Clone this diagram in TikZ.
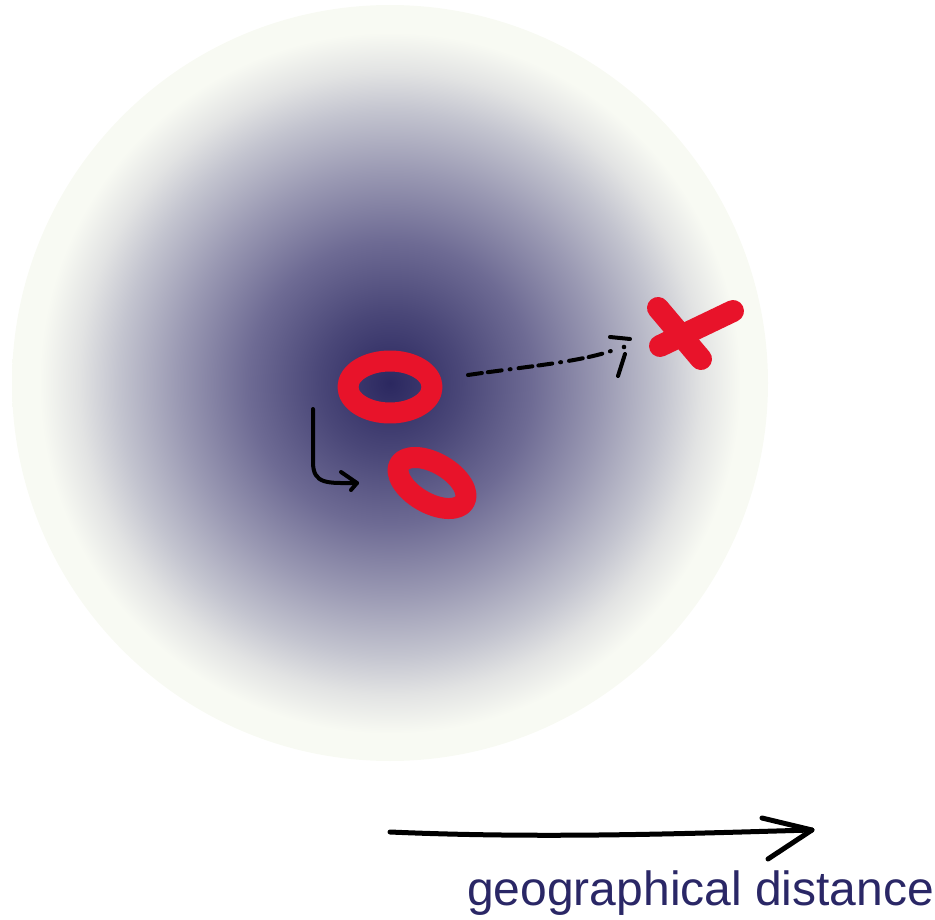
\documentclass[tikz,border=0pt]{standalone}
\usepackage{fontspec}
\setmainfont{Liberation Sans}
\definecolor{cnavy}{HTML}{2B2860}
\definecolor{ca}{HTML}{4A4778}
\definecolor{cb}{HTML}{6E6B94}
\definecolor{cc}{HTML}{9A99B3}
\definecolor{cd}{HTML}{C3C4CF}
\definecolor{ce}{HTML}{E2E3E3}
\definecolor{cpale}{HTML}{F8FAF3}
\definecolor{cred}{HTML}{E8132A}
\definecolor{ctext}{HTML}{2A2766}
\pgfdeclareradialshading{blob}{\pgfpoint{0bp}{0bp}}{color(0bp)=(cnavy); color(4.7bp)=(ca); color(9.4bp)=(cb); color(14bp)=(cc); color(18bp)=(cd); color(20.6bp)=(ce); color(23.2bp)=(cpale); color(50bp)=(cpale)}
\tikzset{
  redstroke/.style={draw=cred, line width=21, line cap=round, line join=round},
  pen/.style={draw=black, line width=4, line cap=round, line join=round},
}
\begin{document}
\begin{tikzpicture}[x=1pt,y=-1pt]
\useasboundingbox (0,0) rectangle (935,920);
\shade[shading=blob] (390,383) circle[radius=378];
% red rings
\coordinate (r1) at (390,387);
\coordinate (r2) at (432,483);
\draw[redstroke] (r1) ellipse[x radius=42, y radius=26];
\draw[redstroke, rotate around={-30:(r2)}] (r2) ellipse[x radius=37.5, y radius=20];
% red cross
\coordinate (xa1) at (658,308);
\coordinate (xa2) at (701,359);
\coordinate (xb1) at (733,311);
\coordinate (xb2) at (660,346);
\draw[redstroke, line width=22] (xa1) -- (xa2);
\draw[redstroke, line width=22] (xb1) -- (xb2);
% curved arrow
\coordinate (c1) at (313,409);
\coordinate (c2) at (357,483);
\draw[pen] (c1) -- (313,462) .. controls (313,485) and (328,483) .. (c2);
\draw[pen] (341,472) -- (c2) -- (351,490);
% dash-dot arrow
\coordinate (d1) at (468,375);
\coordinate (d2) at (614,350);
\draw[pen, dash pattern=on 14pt off 6pt on 14pt off 8pt on 1pt off 8pt] (d1) .. controls (530,366) and (580,362) .. (d2);
\draw[pen] (610,337) -- (630,339);
\draw[pen] (625,354) -- (618,376);
\fill (624,347) circle[radius=2.3];
% distance arrow
\coordinate (g1) at (390,832);
\coordinate (g2) at (812,830);
\draw[pen, line width=5] (g1) .. controls (550,839) and (700,833) .. (g2);
\draw[pen, line width=5] (762,818) -- (g2) -- (768,859);
\node[anchor=base west, inner sep=0, text=ctext, font=\fontsize{48}{56}\selectfont] (lbl) at (467,905) {geographical distance};
\end{tikzpicture}
\end{document}
